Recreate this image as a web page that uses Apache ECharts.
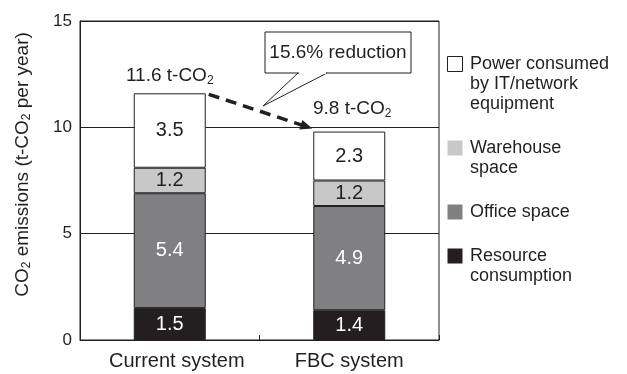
<!DOCTYPE html>
<html>
<head>
<meta charset="utf-8">
<style>
  html, body { margin: 0; padding: 0; background: #fff; }
  #main { width: 627px; height: 374px; }
</style>
<script src="https://cdn.jsdelivr.net/npm/echarts@6/dist/echarts.min.js"></script>
</head>
<body>
<div id="main"></div>
<script>
// data
var categories = ['Current system', 'FBC system'];
var resource = [1.5, 1.4];
var office = [5.4, 4.9];
var warehouse = [1.2, 1.2];
var power = [3.5, 2.3];
var totals = [11.6, 9.8];
var yTicks = [0, 5, 10, 15];
var reductionText = '15.6% reduction';

var seriesNames = ['Resource consumption', 'Office space', 'Warehouse space', 'Power consumed by IT/network equipment'];
var legendLines = [['Power consumed', 'by IT/network', 'equipment'], ['Warehouse', 'space'], ['Office space'], ['Resource', 'consumption']];

var INK = '#231f20';
var FONT = '"Liberation Sans", Arial, sans-serif';
var colors = ['#231f20', '#808083', '#c8c8c9', '#ffffff'];
var labelColors = ['#ffffff', '#ffffff', INK, INK];
var values = [resource, office, warehouse, power];

var chart = echarts.init(document.getElementById('main'), null, { renderer: 'canvas' });

function barSeries(i) {
  return {
    name: seriesNames[i],
    type: 'bar',
    stack: 'co2',
    barWidth: 72,
    barGap: '-100%',
    data: values[i],
    itemStyle: { color: colors[i], borderColor: INK, borderWidth: 1 },
    label: {
      show: true, position: 'inside',
      color: labelColors[i], fontSize: 20, fontFamily: FONT,
      formatter: function (p) { return p.value.toFixed(1); }
    },
    z: 3
  };
}

var subStyle = { fontSize: 12, fontFamily: FONT, color: INK, padding: [9, 0, 0, 0] };

var option = {
  animation: false,
  textStyle: { fontFamily: FONT, color: INK },
  grid: { left: 80, right: 188, top: 21, bottom: 34, show: true, borderColor: INK, borderWidth: 1 },
  xAxis: {
    type: 'category',
    data: categories,
    axisLine: { lineStyle: { color: INK, width: 1 } },
    axisTick: { show: true, inside: true, length: 5, interval: 0, lineStyle: { color: INK } },
    axisLabel: {
      interval: 0,
      color: INK, fontSize: 20, fontFamily: FONT, margin: 11,
      formatter: function (v, i) { return i === 0 ? '{a|' + v + '}' : v; },
      rich: { a: { color: INK, fontSize: 20, fontFamily: FONT, padding: [0, 0, 0, 14] } }
    }
  },
  yAxis: {
    type: 'value',
    min: yTicks[0], max: yTicks[yTicks.length - 1], interval: 5,
    axisLine: { show: true, lineStyle: { color: INK } },
    axisTick: { show: false },
    axisLabel: { color: INK, fontSize: 17, fontFamily: FONT, margin: 8 },
    splitLine: { lineStyle: { color: INK, width: 1 } },
    name: 'CO{s|2} emissions (t-CO{s|2} per year)',
    nameLocation: 'middle',
    nameGap: 47,
    nameTextStyle: {
      color: INK, fontSize: 19, fontFamily: FONT,
      padding: [0, 0, 0, 32],
      rich: { s: subStyle }
    }
  },
  series: [0, 1, 2, 3].map(barSeries).concat([{
    name: 'total',
    type: 'bar',
    barWidth: 72,
    barGap: '-100%',
    silent: true,
    z: 1,
    itemStyle: { color: 'rgba(255,255,255,0)', borderWidth: 0 },
    data: totals.map(function (v, i) {
      return { value: v, label: { offset: i === 1 ? [3, -5] : [0, 0] } };
    }),
    label: {
      show: true, position: 'top', distance: 7,
      color: INK, fontSize: 19, fontFamily: FONT,
      formatter: function (p) { return p.value.toFixed(1) + ' t-CO{s|2}'; },
      rich: { s: subStyle }
    }
  }])
};

chart.setOption(option);

// annotations: dashed arrow, callout box, legend
var p0 = chart.convertToPixel({ seriesIndex: 0 }, [0, totals[0]]);
var p1 = chart.convertToPixel({ seriesIndex: 0 }, [1, totals[1]]);
var half = 36;
var sx = p0[0] + half + 3, sy = p0[1] + 1;
var ex = p1[0] - half - 1, ey = p1[1] - 3;
var ang = Math.atan2(ey - sy, ex - sx);
var headLen = 12, headW = 5;
var bx = ex - headLen * Math.cos(ang), by = ey - headLen * Math.sin(ang);
var nx = -Math.sin(ang), ny = Math.cos(ang);

var graphics = [
  {
    type: 'line',
    shape: { x1: sx, y1: sy, x2: bx + 2 * Math.cos(ang), y2: by + 2 * Math.sin(ang) },
    style: { stroke: INK, lineWidth: 3.5, lineDash: [11, 7] },
    z: 10
  },
  {
    type: 'polygon',
    shape: { points: [[ex, ey], [bx + nx * headW, by + ny * headW], [bx - nx * headW, by - ny * headW]] },
    style: { fill: INK },
    z: 10
  },
  {
    type: 'rect',
    shape: { x: 265, y: 32, width: 146, height: 41 },
    style: { fill: '#fff', stroke: INK, lineWidth: 1 },
    z: 11
  },
  {
    type: 'polyline',
    shape: { points: [[298, 73], [263, 106], [327, 73]] },
    style: { stroke: INK, lineWidth: 1, fill: null },
    z: 11
  },
  {
    type: 'line',
    shape: { x1: 299, y1: 73, x2: 326, y2: 73 },
    style: { stroke: '#fff', lineWidth: 2 },
    z: 12
  },
  {
    type: 'text',
    x: 338, y: 53,
    style: { text: reductionText, fill: INK, fontSize: 19, fontFamily: FONT, align: 'center', verticalAlign: 'middle' },
    z: 12
  }
];

// legend built as graphics so the square lines up with the first text line
var legendColors = [colors[3], colors[2], colors[1], colors[0]];
var cy = 64;
legendLines.forEach(function (lines, i) {
  graphics.push({
    type: 'rect',
    shape: { x: 447.5, y: cy - 7.5, width: 15, height: 15 },
    style: { fill: legendColors[i], stroke: i === 0 ? INK : null, lineWidth: 1 }
  });
  graphics.push({
    type: 'text',
    x: 470, y: cy - 10,
    style: { text: lines.join('\n'), fill: INK, fontSize: 18, fontFamily: FONT, lineHeight: 20, verticalAlign: 'top' }
  });
  cy += lines.length * 20 + 24;
});

chart.setOption({ graphic: graphics });
</script>
</body>
</html>
